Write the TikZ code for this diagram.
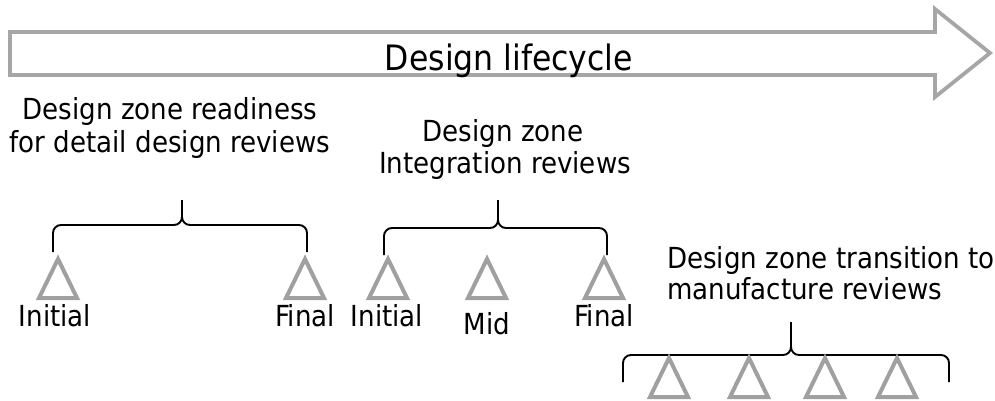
\documentclass[tikz,border=0pt]{standalone}
\usepackage{fontspec}
\setmainfont{DejaVu Sans Condensed}
\begin{document}
\begin{tikzpicture}[x=1pt,y=-1pt,
  gline/.style={draw=arrowgray,line width=3.8pt,line join=miter},
  tri/.style={draw=trigray,line width=4pt,line join=miter},
  bracepath/.style={draw=black,line width=1.9pt},
  lbl/.style={inner sep=0pt,anchor=base,font=\fontsize{29}{32}\selectfont},
  ttl/.style={inner sep=0pt,anchor=base,font=\fontsize{35}{40}\selectfont}]
\definecolor{arrowgray}{HTML}{A6A6A6}
\definecolor{trigray}{HTML}{A0A0A0}
\useasboundingbox (0,0) rectangle (995,401);
% big arrow
\draw[gline] (10,32) -- (935,32) -- (935,9) -- (990,53) -- (935,97) -- (935,75) -- (10,75) -- cycle;
\node[ttl] (life) at (509,71) {Design lifecycle};
% group texts
\node[lbl] (g1a) at (170,120) {Design zone readiness};
\node[lbl] (g1b) at (170,152) {for detail design reviews};
\node[lbl] (g2a) at (503,142) {Design zone};
\node[lbl] (g2b) at (505,173) {Integration reviews};
\node[lbl,anchor=base west] (g3a) at (667,268) {Design zone transition to};
\node[lbl,anchor=base west] (g3b) at (667,299) {manufacture reviews};
% braces: xl, xr, xm, ytop, yh
\newcommand{\mybrace}[5]{%
  \draw[bracepath] (#1,#5+27) -- (#1,#5+8) to[out=90,in=180] (#1+8,#5) -- (#3-8,#5)
    to[out=0,in=-90] (#3,#5-8) -- (#3,#4);
  \draw[bracepath] (#2,#5+27) -- (#2,#5+8) to[out=90,in=0] (#2-8,#5) -- (#3+8,#5)
    to[out=180,in=-90] (#3,#5-8);
}
\mybrace{53}{307}{182}{200}{225}
\mybrace{384}{607}{498}{200}{228}
\mybrace{623}{949}{791}{322}{355}
% triangles
\newcommand{\mytri}[2]{\draw[tri] (#1,#2) -- (#1+19,#2+39) -- (#1-19,#2+39) -- cycle;}
\mytri{58}{259}
\mytri{305}{259}
\mytri{388}{259}
\mytri{487}{259}
\mytri{604}{259}
\mytri{669}{358}
\mytri{749}{358}
\mytri{825}{358}
\mytri{897}{358}
% labels
\node[lbl] (i1) at (55,326) {Initial};
\node[lbl] (f1) at (305,326) {Final};
\node[lbl] (i2) at (387,326) {Initial};
\node[lbl] (m2) at (487,334) {Mid};
\node[lbl] (f2) at (604,326) {Final};
\end{tikzpicture}
\end{document}
